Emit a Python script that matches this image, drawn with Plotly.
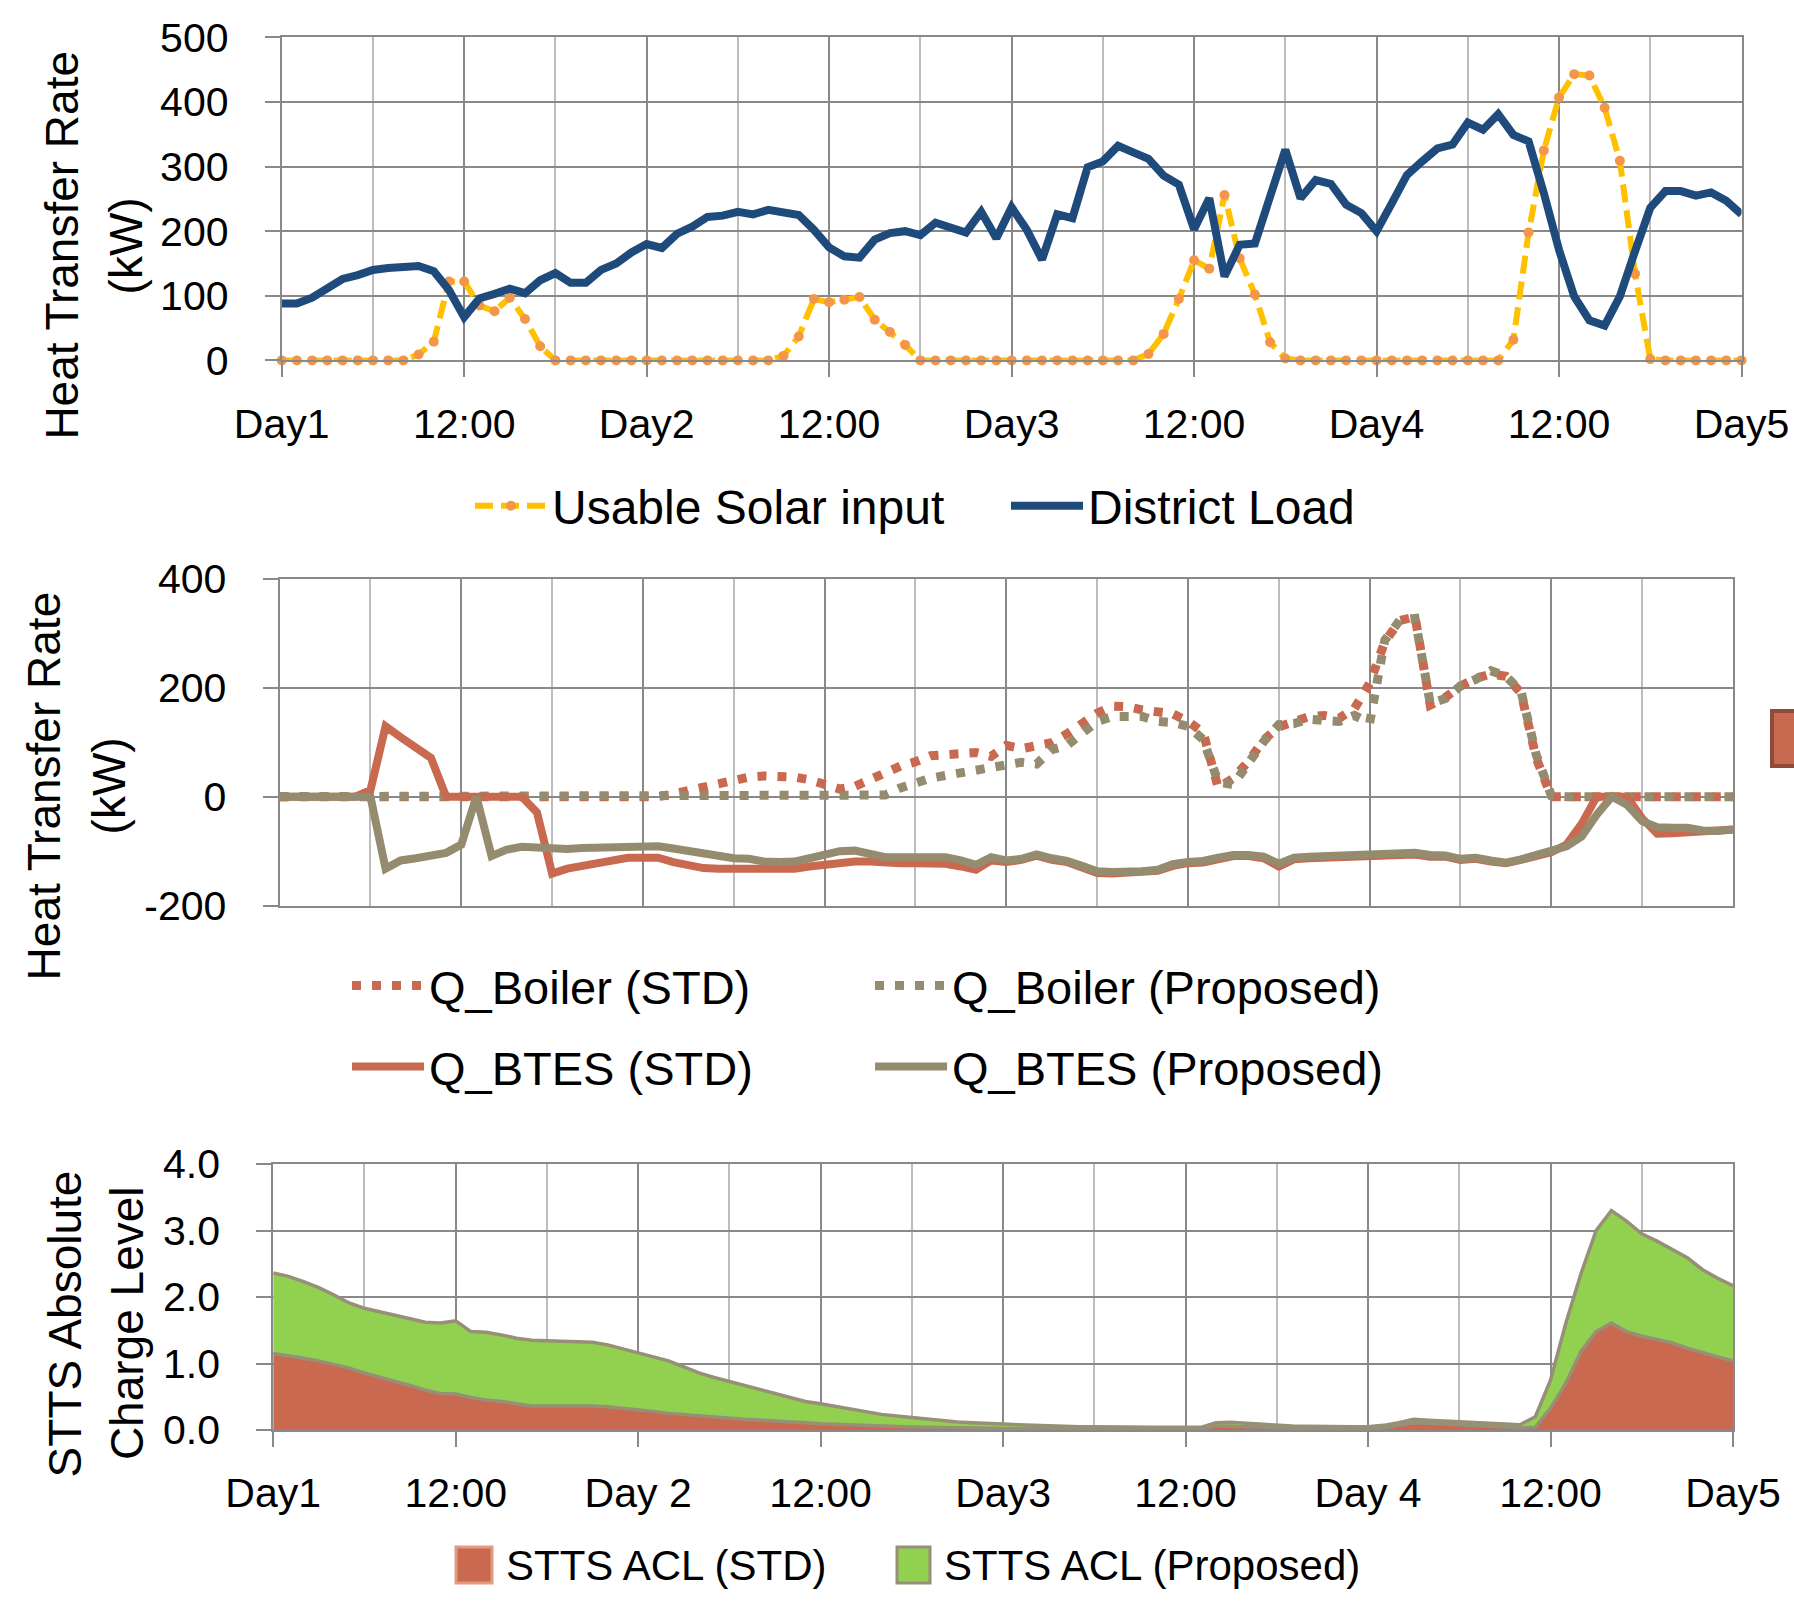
import plotly.graph_objects as go

W, H = 1794, 1609

# ---------------- data ----------------
hours = list(range(97))
x_tick_vals = [0, 12, 24, 36, 48, 60, 72, 84, 96]
x_minor_vals = [6, 18, 30, 42, 54, 66, 78, 90]
x_labels_top = ["Day1", "12:00", "Day2", "12:00", "Day3", "12:00", "Day4", "12:00", "Day5"]
x_labels_bottom = ["Day1", "12:00", "Day 2", "12:00", "Day3", "12:00", "Day 4", "12:00", "Day5"]

top_y_ticks = [0, 100, 200, 300, 400, 500]
mid_y_ticks = [-200, 0, 200, 400]
mid_y_labels = ["-200", "0", "200", "400"]
bot_y_ticks = [0, 1, 2, 3, 4]
bot_y_labels = ["0.0", "1.0", "2.0", "3.0", "4.0"]

usable_solar = [0, 0, 0, 0, 0, 0, 0, 0, 0, 9, 29, 122, 122, 85, 76, 97, 64, 22, 0, 0,
                0, 0, 0, 0, 0, 0, 0, 0, 0, 0, 0, 0, 0, 7, 37, 95, 90, 94, 98, 63,
                44, 24, 0, 0, 0, 0, 0, 0, 0, 0, 0, 0, 0, 0, 0, 0, 0, 10, 41, 95,
                155, 142, 256, 158, 102, 28, 3, 0, 0, 0, 0, 0, 0, 0, 0, 0, 0, 0, 0, 0,
                0, 32, 198, 325, 407, 443, 441, 391, 309, 134, 2, 0, 0, 0, 0, 0, 0]

district_load = [88, 88, 97, 112, 126, 132, 140, 143, 143, 146, 138, 109, 67, 96, 103, 111, 104, 124, 135, 120,
                 120, 140, 150, 167, 180, 174, 196, 207, 222, 224, 230, 226, 233, 230, 225, 202, 175, 161, 159, 187,
                 197, 200, 194, 213, 206, 198, 230, 189, 237, 202, 156, 226, 220, 299, 308, 332, 322, 312, 286, 272,
                 203, 251, 130, 179, 181, 255, 326, 251, 279, 273, 241, 228, 200, 243, 287, 308, 328, 334, 368, 357,
                 381, 349, 339, 259, 171, 99, 62, 54, 99, 169, 236, 262, 262, 255, 260, 247, 226]

q_boiler_std = [0, 0, 0, 0, 0, 0, 0, 0, 0, 0, 0, 0, 0, 0, 0, 0, 0, 0, 0, 0,
                0, 0, 0, 0, 0, 0, 5, 11, 16, 23, 31, 36, 38, 39, 36, 31, 22, 14, 19, 32,
                45, 56, 64, 75, 77, 79, 81, 74, 94, 88, 92, 99, 115, 134, 153, 166, 165, 159, 156, 152,
                138, 118, 16, 34, 65, 104, 128, 138, 147, 149, 144, 162, 208, 284, 323, 330, 168, 182, 203, 217,
                225, 221, 190, 71, 0, 0, 0, 0, 0, 0, 0, 0, 0, 0, 0, 0, 0]

q_boiler_prop = [0, 0, 0, 0, 0, 0, 0, 0, 0, 0, 0, 0, 0, 0, 0, 0, 0, 0, 0, 0,
                 0, 0, 0, 0, 0, 0, 0, 0, 0, 0, 0, 0, 0, 0, 0, 0, 0, 0, 0, 0,
                 3, 16, 27, 34, 39, 44, 49, 52, 58, 63, 60, 86, 94, 118, 138, 147, 149, 147, 138, 136,
                 129, 105, 27, 22, 62, 101, 132, 134, 142, 141, 138, 149, 135, 287, 324, 327, 171, 180, 203, 215,
                 231, 221, 193, 77, 2, 0, 0, 0, 0, 0, 0, 0, 0, 0, 0, 0, 0]

q_btes_std = [0, 0, 0, 0, 0, 0, 12, 129, 109, 89, 71, 0, 0, 0, 0, 0, 0, -29, -141, -132,
              -127, -120, -114, -112, -112, -112, -120, -127, -131, -132, -132, -132, -133, -133, -132, -128, -124, -120, -119, -119,
              -122, -122, -122, -122, -123, -128, -134, -117, -120, -116, -108, -116, -120, -130, -140, -141, -140, -139, -136, -127,
              -122, -121, -114, -109, -109, -113, -128, -115, -113, -112, -110, -107, -106, -106, -106, -106, -110, -110, -116, -114,
              -119, -122, -116, -109, -102, -88, -50, 0, 0, 0, -40, -68, -67, -65, -63, -62, -60]

q_btes_prop = [0, 0, 0, 0, 0, 0, 0, -132, -117, -113, -108, -103, -88, 0, -109, -97, -92, -94, -96, -96,
               -94, -93, -92, -92, -93, -91, -95, -100, -106, -109, -113, -114, -119, -120, -119, -113, -105, -100, -99, -106,
               -111, -111, -111, -109, -111, -117, -125, -111, -117, -114, -106, -113, -118, -127, -137, -138, -138, -137, -134, -124,
               -120, -118, -112, -107, -107, -110, -123, -112, -110, -109, -107, -105, -103, -103, -103, -103, -107, -108, -114, -112,
               -117, -121, -115, -108, -100, -91, -73, -33, 0, -15, -45, -56, -57, -57, -62, -63, -60]

stts_acl_std = [1.15, 1.12, 1.08, 1.04, 0.99, 0.93, 0.86, 0.79, 0.73, 0.67, 0.60, 0.55, 0.54, 0.49, 0.45, 0.43, 0.39, 0.36, 0.36, 0.36,
                0.37, 0.36, 0.35, 0.33, 0.30, 0.28, 0.25, 0.23, 0.21, 0.19, 0.17, 0.16, 0.15, 0.14, 0.12, 0.11, 0.095, 0.085, 0.075, 0.065,
                0.055, 0.05, 0.045, 0.04, 0.035, 0.03, 0.03, 0.025, 0.02, 0.02, 0.02, 0.02, 0.015, 0.015, 0.015, 0.015, 0.015, 0.01, 0.01, 0.01,
                0.01, 0.01, 0.06, 0.06, 0.05, 0.04, 0.03, 0.02, 0.015, 0.01, 0.01, 0.01, 0.01, 0.03, 0.07, 0.11, 0.10, 0.09, 0.08, 0.065,
                0.05, 0.04, 0.03, 0.04, 0.33, 0.70, 1.18, 1.48, 1.61, 1.48, 1.41, 1.36, 1.31, 1.23, 1.16, 1.10, 1.04]

# stacked on top of STD
stts_acl_prop = [1.21, 1.19, 1.15, 1.10, 1.04, 0.98, 0.97, 0.99, 1.00, 1.00, 1.02, 1.06, 1.10, 0.99, 1.02, 1.00, 0.99, 0.99, 0.98, 0.97,
                 0.96, 0.96, 0.93, 0.89, 0.86, 0.82, 0.79, 0.72, 0.65, 0.60, 0.56, 0.50, 0.45, 0.40, 0.36, 0.32, 0.30, 0.27, 0.24, 0.21,
                 0.18, 0.16, 0.14, 0.12, 0.10, 0.09, 0.08, 0.07, 0.07, 0.06, 0.05, 0.04, 0.04, 0.035, 0.035, 0.03, 0.03, 0.03, 0.03, 0.03,
                 0.03, 0.03, 0.05, 0.055, 0.05, 0.045, 0.04, 0.04, 0.04, 0.04, 0.04, 0.04, 0.04, 0.04, 0.04, 0.05, 0.045, 0.045, 0.04, 0.04,
                 0.045, 0.045, 0.05, 0.16, 0.42, 0.90, 1.17, 1.52, 1.69, 1.66, 1.54, 1.48, 1.41, 1.36, 1.25, 1.18, 1.13]

# ---------------- styling ----------------
FONT = "Liberation Sans, Arial, sans-serif"
GRID = "#898989"
GRID_LIGHT = "#BDBDBD"
BLUE = "#1F4A7C"
SOLAR_LINE = "#FFC000"
SOLAR_MARK = "#F4964A"
RED = "#C9694F"
OLIVE = "#958B6E"
GREEN = "#92D050"
OUTLINE = "#979076"


def px_x(x):
    return x / W


def px_y(y):
    return 1 - y / H


fig = go.Figure()

# top chart
fig.add_trace(go.Scatter(x=hours, y=usable_solar, name="Usable Solar input", mode="lines+markers",
                         line=dict(color=SOLAR_LINE, width=6, dash="18px,8px"),
                         marker=dict(color=SOLAR_MARK, size=10), cliponaxis=False,
                         xaxis="x", yaxis="y", legend="legend"))
fig.add_trace(go.Scatter(x=hours, y=district_load, name="District Load", mode="lines",
                         line=dict(color=BLUE, width=8), xaxis="x", yaxis="y", legend="legend"))

# middle chart
fig.add_trace(go.Scatter(x=hours, y=q_boiler_std, name="Q_Boiler (STD)", mode="lines",
                         line=dict(color=RED, width=9, dash="9px,11px"),
                         xaxis="x2", yaxis="y2", legend="legend2"))
fig.add_trace(go.Scatter(x=hours, y=q_boiler_prop, name="Q_Boiler (Proposed)", mode="lines",
                         line=dict(color=OLIVE, width=9, dash="9px,11px"),
                         xaxis="x2", yaxis="y2", legend="legend2"))
fig.add_trace(go.Scatter(x=hours, y=q_btes_std, name="Q_BTES (STD)", mode="lines",
                         line=dict(color=RED, width=8), xaxis="x2", yaxis="y2", legend="legend3"))
fig.add_trace(go.Scatter(x=hours, y=q_btes_prop, name="Q_BTES (Proposed)", mode="lines",
                         line=dict(color=OLIVE, width=8), xaxis="x2", yaxis="y2", legend="legend3"))

# bottom chart (stacked area)
fig.add_trace(go.Scatter(x=hours, y=stts_acl_std, name="STTS ACL (STD)", mode="lines",
                         stackgroup="acl", fillcolor=RED, line=dict(color=OUTLINE, width=3.5),
                         xaxis="x3", yaxis="y3", showlegend=False))
fig.add_trace(go.Scatter(x=hours, y=stts_acl_prop, name="STTS ACL (Proposed)", mode="lines",
                         stackgroup="acl", fillcolor=GREEN, line=dict(color=OUTLINE, width=3.5),
                         xaxis="x3", yaxis="y3", showlegend=False))

TICK_FONT = dict(family=FONT, size=41, color="black")


def xaxis(dom, anchor, labels):
    show = labels is not None
    return dict(domain=dom, anchor=anchor, range=[0, 96], tickmode="array", tickvals=x_tick_vals,
                ticktext=labels if show else None, showticklabels=show,
                ticks="outside" if show else "", ticklen=15, tickwidth=2, tickcolor=GRID,
                showgrid=True, gridcolor=GRID, gridwidth=2,
                minor=dict(tickmode="array", tickvals=x_minor_vals, showgrid=True,
                           gridcolor=GRID_LIGHT, gridwidth=2, ticks=""),
                showline=True, linecolor=GRID, linewidth=2, mirror=True, zeroline=False,
                tickfont=TICK_FONT, ticklabelstandoff=11, fixedrange=True, automargin=False)


def yaxis(dom, anchor, rng, vals, labels):
    return dict(domain=dom, anchor=anchor, range=rng, tickmode="array", tickvals=vals, ticktext=labels,
                ticks="outside", ticklen=15, tickwidth=2, tickcolor=GRID,
                showgrid=True, gridcolor=GRID, gridwidth=2,
                showline=True, linecolor=GRID, linewidth=2, mirror=True, zeroline=False,
                tickfont=TICK_FONT, ticklabelstandoff=28, fixedrange=True, automargin=False)


def legend(xpx, ypx, entry, size):
    return dict(orientation="h", x=px_x(xpx), y=px_y(ypx), xanchor="left", yanchor="middle",
                font=dict(family=FONT, size=size, color="black"), itemwidth=72, entrywidth=entry,
                entrywidthmode="pixels", traceorder="normal", bgcolor="rgba(0,0,0,0)", borderwidth=0)


layout = dict(
    width=W, height=H, margin=dict(l=0, r=0, t=0, b=0, pad=0, autoexpand=False),
    paper_bgcolor="white", plot_bgcolor="white",
    font=dict(family=FONT, color="black"),
    xaxis=xaxis([px_x(281.7), px_x(1741.5)], "y", x_labels_top),
    yaxis=yaxis([px_y(360.4), px_y(37.3)], "x", [0, 500], top_y_ticks, [str(v) for v in top_y_ticks]),
    xaxis2=xaxis([px_x(279.6), px_x(1733)], "y2", None),
    yaxis2=yaxis([px_y(905.7), px_y(578.6)], "x2", [-200, 400], mid_y_ticks, mid_y_labels),
    xaxis3=xaxis([px_x(273.2), px_x(1733)], "y3", x_labels_bottom),
    yaxis3=yaxis([px_y(1430), px_y(1164)], "x3", [0, 4], bot_y_ticks, bot_y_labels),
    legend=legend(470, 506, 449, 48),
    legend2=legend(347, 986, 436, 47),
    legend3=legend(347, 1067, 436, 47),
    showlegend=True,
)
fig.update_layout(**layout)

# rotated axis titles
TITLE_FONT = dict(family=FONT, size=46, color="black")
titles = [
    ("Heat Transfer Rate", 61.6, 245),
    ("(kW)", 126.4, 246),
    ("Heat Transfer Rate", 44.4, 786),
    ("(kW)", 109.4, 786),
    ("STTS Absolute", 64.8, 1323.6),
    ("Charge Level", 126.5, 1323.6),
]
for txt, cx, cy in titles:
    fig.add_annotation(text=txt, x=px_x(cx), y=px_y(cy), xref="paper", yref="paper",
                       xanchor="center", yanchor="middle", textangle=-90, showarrow=False,
                       font=TITLE_FONT)

# bottom legend (filled square swatches)
swatches = [
    ("STTS ACL (STD)", 456, 492, RED, "#E39A82", 504),
    ("STTS ACL (Proposed)", 897, 930, GREEN, OUTLINE, 942),
]
for label, x0, x1, fill, edge, tx in swatches:
    fig.add_shape(type="rect", xref="paper", yref="paper", x0=px_x(x0), x1=px_x(x1),
                  y0=px_y(1583), y1=px_y(1547), fillcolor=fill, line=dict(color=edge, width=3))
    fig.add_annotation(text=label, x=px_x(tx), y=px_y(1565), xref="paper", yref="paper",
                       xanchor="left", yanchor="middle", showarrow=False,
                       font=dict(family=FONT, size=42, color="black"))

# stray clipped legend swatch at the right edge of the middle panel
fig.add_shape(type="rect", xref="paper", yref="paper", x0=px_x(1772), x1=px_x(1800),
              y0=px_y(766), y1=px_y(711), fillcolor="#C86A4F", line=dict(color="#8E4B38", width=4))

fig.write_html("out.html", config={"displayModeBar": False})
